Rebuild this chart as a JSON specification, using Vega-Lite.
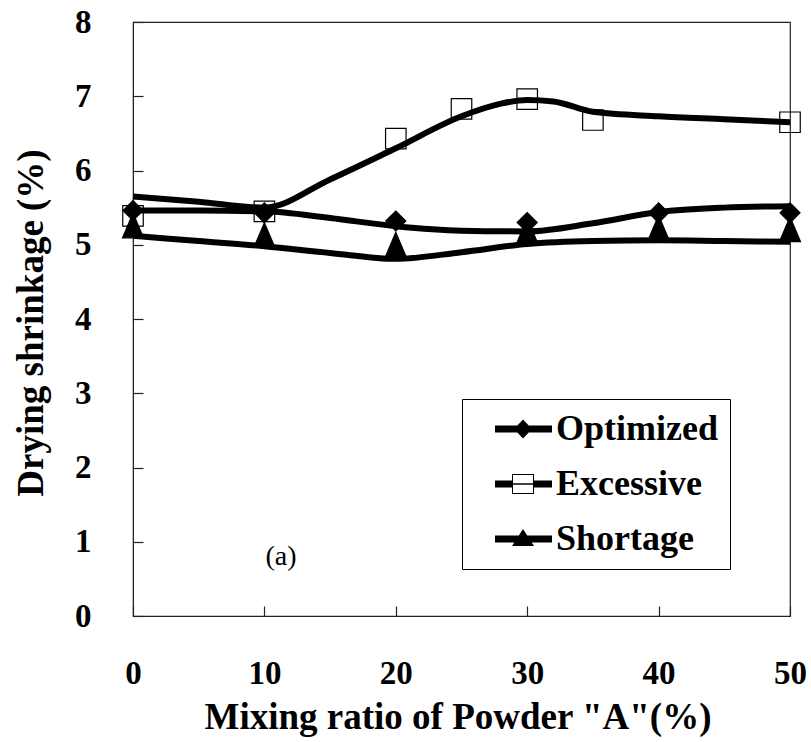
{
  "$schema": "https://vega.github.io/schema/vega-lite/v6.json",
  "width": 657,
  "height": 594,
  "autosize": {"type": "none"},
  "padding": {"left": 133, "top": 22, "right": 21, "bottom": 126},
  "background": "white",
  "datasets": {
    "markers": [
      {"series": "Optimized", "ratio": 0, "shrinkage": 5.46},
      {"series": "Optimized", "ratio": 10, "shrinkage": 5.43},
      {"series": "Optimized", "ratio": 20, "shrinkage": 5.32},
      {"series": "Optimized", "ratio": 30, "shrinkage": 5.3},
      {"series": "Optimized", "ratio": 40, "shrinkage": 5.43},
      {"series": "Optimized", "ratio": 50, "shrinkage": 5.43},
      {"series": "Excessive", "ratio": 0, "shrinkage": 5.39},
      {"series": "Excessive", "ratio": 10, "shrinkage": 5.45},
      {"series": "Excessive", "ratio": 20, "shrinkage": 6.43},
      {"series": "Excessive", "ratio": 25, "shrinkage": 6.83},
      {"series": "Excessive", "ratio": 30, "shrinkage": 6.96},
      {"series": "Excessive", "ratio": 35, "shrinkage": 6.68},
      {"series": "Excessive", "ratio": 50, "shrinkage": 6.65},
      {"series": "Shortage", "ratio": 0, "shrinkage": 5.26},
      {"series": "Shortage", "ratio": 10, "shrinkage": 5.13},
      {"series": "Shortage", "ratio": 20, "shrinkage": 5.0},
      {"series": "Shortage", "ratio": 30, "shrinkage": 5.19},
      {"series": "Shortage", "ratio": 40, "shrinkage": 5.23},
      {"series": "Shortage", "ratio": 50, "shrinkage": 5.21}
    ],
    "curves": [
      {"series": "Optimized", "ratio": 0, "shrinkage": 5.46},
      {"series": "Optimized", "ratio": 5, "shrinkage": 5.46},
      {"series": "Optimized", "ratio": 10, "shrinkage": 5.45},
      {"series": "Optimized", "ratio": 15, "shrinkage": 5.36},
      {"series": "Optimized", "ratio": 20, "shrinkage": 5.25},
      {"series": "Optimized", "ratio": 25, "shrinkage": 5.19},
      {"series": "Optimized", "ratio": 30, "shrinkage": 5.18},
      {"series": "Optimized", "ratio": 35, "shrinkage": 5.29},
      {"series": "Optimized", "ratio": 40, "shrinkage": 5.44},
      {"series": "Optimized", "ratio": 45, "shrinkage": 5.5},
      {"series": "Optimized", "ratio": 50, "shrinkage": 5.52},
      {"series": "Excessive", "ratio": 0, "shrinkage": 5.65},
      {"series": "Excessive", "ratio": 5, "shrinkage": 5.58},
      {"series": "Excessive", "ratio": 10, "shrinkage": 5.5},
      {"series": "Excessive", "ratio": 15, "shrinkage": 5.88},
      {"series": "Excessive", "ratio": 20, "shrinkage": 6.3},
      {"series": "Excessive", "ratio": 25, "shrinkage": 6.73},
      {"series": "Excessive", "ratio": 28, "shrinkage": 6.9},
      {"series": "Excessive", "ratio": 30, "shrinkage": 6.95},
      {"series": "Excessive", "ratio": 32, "shrinkage": 6.93},
      {"series": "Excessive", "ratio": 35, "shrinkage": 6.79},
      {"series": "Excessive", "ratio": 40, "shrinkage": 6.73},
      {"series": "Excessive", "ratio": 45, "shrinkage": 6.69},
      {"series": "Excessive", "ratio": 50, "shrinkage": 6.65},
      {"series": "Shortage", "ratio": 0, "shrinkage": 5.12},
      {"series": "Shortage", "ratio": 5, "shrinkage": 5.05},
      {"series": "Shortage", "ratio": 10, "shrinkage": 4.98},
      {"series": "Shortage", "ratio": 15, "shrinkage": 4.89},
      {"series": "Shortage", "ratio": 20, "shrinkage": 4.81},
      {"series": "Shortage", "ratio": 25, "shrinkage": 4.9},
      {"series": "Shortage", "ratio": 30, "shrinkage": 5.01},
      {"series": "Shortage", "ratio": 35, "shrinkage": 5.05},
      {"series": "Shortage", "ratio": 40, "shrinkage": 5.06},
      {"series": "Shortage", "ratio": 45, "shrinkage": 5.05},
      {"series": "Shortage", "ratio": 50, "shrinkage": 5.04}
    ]
  },
  "config": {
    "view": {"stroke": "#222", "strokeWidth": 1.2},
    "axis": {
      "grid": false,
      "domainColor": "#222",
      "tickColor": "#222",
      "tickWidth": 1.2,
      "labelFont": "Liberation Serif",
      "labelFontWeight": "bold",
      "labelColor": "black",
      "labelFontSize": 33,
      "titleFont": "Liberation Serif",
      "titleFontWeight": "bold",
      "titleColor": "black",
      "titleFontSize": 37
    }
  },
  "resolve": {"scale": {"shape": "independent"}},
  "layer": [
    {
      "data": {"name": "curves"},
      "mark": {"type": "line", "color": "black", "strokeWidth": 6, "interpolate": "monotone"},
      "encoding": {
        "x": {
          "field": "ratio", "type": "quantitative",
          "scale": {"domain": [0, 50], "nice": false},
          "axis": {
            "title": "Mixing ratio of Powder \"A\"(%)",
            "values": [0, 10, 20, 30, 40, 50],
            "format": "d",
            "tickSize": -10,
            "labelPadding": 77,
            "labelBaseline": "alphabetic",
            "labelFlush": false,
            "titleX": 324.5,
            "titleY": 112,
            "titleBaseline": "alphabetic"
          }
        },
        "y": {
          "field": "shrinkage", "type": "quantitative",
          "scale": {"domain": [0, 8], "nice": false},
          "axis": {
            "title": "Drying shrinkage (%)",
            "values": [0, 1, 2, 3, 4, 5, 6, 7, 8],
            "format": "d",
            "tickSize": -10,
            "labelPadding": 52,
            "labelBaseline": "middle",
            "titleX": -90.4,
            "titleY": 300.5,
            "titleBaseline": "alphabetic"
          }
        },
        "detail": {"field": "series", "type": "nominal"}
      }
    },
    {
      "data": {"name": "markers"},
      "mark": {"type": "point", "stroke": "black", "strokeWidth": 1.2, "opacity": 1},
      "encoding": {
        "x": {"field": "ratio", "type": "quantitative"},
        "y": {"field": "shrinkage", "type": "quantitative"},
        "shape": {
          "field": "series", "type": "nominal",
          "scale": {"domain": ["Optimized", "Excessive", "Shortage"], "range": ["diamond", "square", "M0,-1.18L1,1.18L-1,1.18Z"]},
          "legend": null
        },
        "size": {
          "field": "series", "type": "nominal",
          "scale": {"domain": ["Optimized", "Excessive", "Shortage"], "range": [400, 441, 484]},
          "legend": null
        },
        "fill": {
          "field": "series", "type": "nominal",
          "scale": {"domain": ["Optimized", "Excessive", "Shortage"], "range": ["black", "transparent", "black"]},
          "legend": null
        }
      }
    },
    {
      "data": {"name": "markers"},
      "mark": {"type": "point", "filled": true, "color": "black", "opacity": 0},
      "encoding": {
        "x": {"field": "ratio", "type": "quantitative"},
        "y": {"field": "shrinkage", "type": "quantitative"},
        "shape": {
          "field": "series", "type": "nominal",
          "scale": {
            "domain": ["Optimized", "Excessive", "Shortage"],
            "range": [
              "M-2.8,-0.35H2.9V0.35H-2.8Z M0,-0.95L0.9,0L0,0.95L-0.9,0Z",
              "M-2.8,-0.35H-1.1V0.35H-2.8Z M1.1,-0.35H2.9V0.35H1.1Z M-1.1,-1H1.1V1H-1.1Z M-1,-0.9V0.9H1V-0.9Z M-1,-0.08H1V0.08H-1Z",
              "M-2.8,-0.35H2.9V0.35H-2.8Z M0,-1L1.1,0.7H-1.1Z"
            ]
          },
          "legend": {
            "title": null,
            "orient": "none",
            "legendX": 329,
            "legendY": 377,
            "symbolSize": 400,
            "symbolOffset": 31,
            "labelOffset": 15,
            "padding": 12,
            "rowPadding": 19,
            "labelFont": "Liberation Serif",
            "labelFontSize": 36,
            "labelFontWeight": "bold",
            "labelColor": "black",
            "labelLimit": 400,
            "labelExpr": "datum.label + '   '",
            "strokeColor": "black",
            "fillColor": "white",
            "symbolOpacity": 1,
            "symbolFillColor": "black",
            "symbolStrokeWidth": 0
          }
        }
      }
    },
    {
      "data": {"values": [{"note": "(a)"}]},
      "mark": {"type": "text", "font": "Liberation Serif", "fontSize": 28, "color": "black", "baseline": "middle", "align": "center"},
      "encoding": {
        "x": {"datum": 11.26, "type": "quantitative"},
        "y": {"datum": 0.79, "type": "quantitative"},
        "text": {"field": "note", "type": "nominal"}
      }
    }
  ]
}
